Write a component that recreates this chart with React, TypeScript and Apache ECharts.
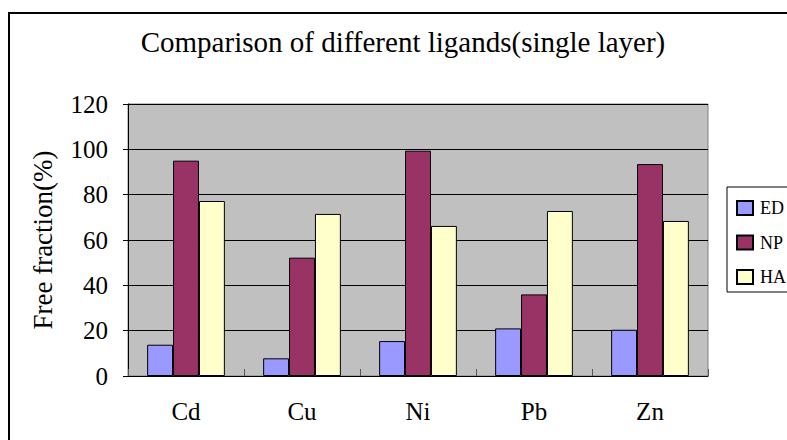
import React, { useEffect, useRef } from "react";
import * as echarts from "echarts";

const categories = ["Cd", "Cu", "Ni", "Pb", "Zn"];
const seriesNames = ["ED", "NP", "HA"];
const edValues = [13.8, 7.8, 15.4, 21.0, 20.4];
const npValues = [95.0, 52.2, 99.4, 36.0, 93.5];
const haValues = [77.2, 71.5, 66.2, 72.8, 68.4];
const seriesColors = ["#9999FF", "#993366", "#FFFFCC"];
const titleText = "Comparison of different ligands(single layer)";
const yAxisName = "Free fraction(%)";

const FONT = "'Liberation Serif', 'Times New Roman', serif";

export default function App() {
  const ref = useRef<HTMLDivElement>(null);
  useEffect(() => {
    if (!ref.current) return;
    const chart = echarts.init(ref.current, null, { renderer: "svg" });
    const values = [edValues, npValues, haValues];
    chart.setOption({
      animation: false,
      backgroundColor: "#ffffff",
      title: {
        text: titleText,
        left: 398,
        textAlign: "center",
        top: 22,
        textStyle: { fontFamily: FONT, fontSize: 29, fontWeight: "normal", color: "#000" },
      },
      graphic: [
        {
          type: "rect",
          shape: { x: 9, y: 13, width: 800, height: 440 },
          style: { fill: "none", stroke: "#000", lineWidth: 2 },
          silent: true,
          z: -1,
        },
      ],
      legend: {
        orient: "vertical",
        left: 727,
        top: 187,
        data: seriesNames,
        backgroundColor: "#fff",
        borderColor: "#000",
        borderWidth: 1,
        padding: [12, 30, 6, 9],
        itemGap: 16.5,
        itemWidth: 16,
        itemHeight: 14,
        icon: "rect",
        textStyle: { fontFamily: FONT, fontSize: 18, color: "#000", padding: [0, 0, 0, 2] },
      },
      grid: {
        left: 128,
        right: 79,
        top: 104,
        bottom: 64,
        show: true,
        backgroundColor: "#C0C0C0",
        borderColor: "#808080",
        borderWidth: 1,
      },
      xAxis: {
        type: "category",
        data: categories,
        axisLine: { lineStyle: { color: "#000", width: 1 } },
        axisTick: { show: true, inside: true, length: 7, lineStyle: { color: "#555" } },
        axisLabel: { fontFamily: FONT, fontSize: 25, color: "#000", margin: 23 },
      },
      yAxis: {
        type: "value",
        min: 0,
        max: 120,
        interval: 20,
        name: yAxisName,
        nameLocation: "middle",
        nameGap: 72,
        nameTextStyle: { fontFamily: FONT, fontSize: 27, color: "#000" },
        axisLine: { show: true, lineStyle: { color: "#000", width: 1 } },
        axisTick: { show: true, inside: false, length: 5, lineStyle: { color: "#000" } },
        axisLabel: { fontFamily: FONT, fontSize: 25, color: "#000", margin: 20 },
        splitLine: { show: true, lineStyle: { color: "#000", width: 1 } },
      },
      series: seriesNames.map((name, i) => ({
        name,
        type: "bar",
        data: values[i],
        barGap: "0%",
        barCategoryGap: "33%",
        itemStyle: { color: seriesColors[i], borderColor: "#000", borderWidth: 1 },
      })),
    });
    return () => chart.dispose();
  }, []);
  return (
    <div
      ref={ref}
      style={{ position: "fixed", left: 0, top: 0, width: 787, height: 440 }}
    />
  );
}
